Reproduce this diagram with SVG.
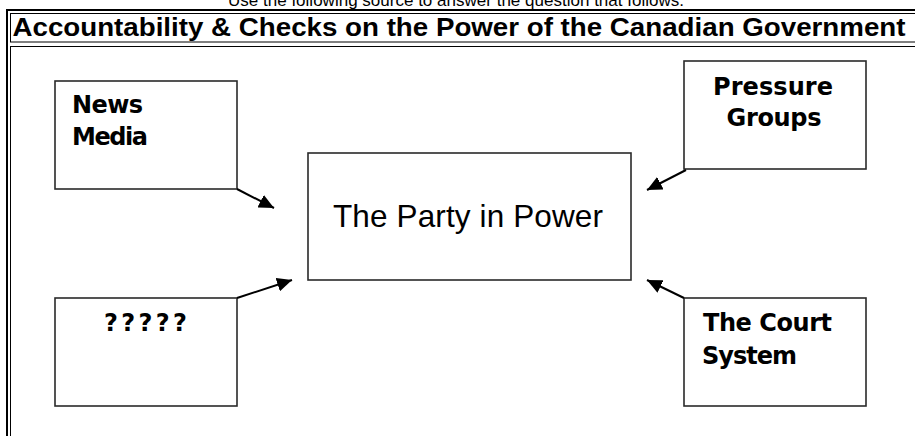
<svg xmlns="http://www.w3.org/2000/svg" width="915" height="436" viewBox="0 0 915 436">
  <style>
    .frame { fill: none; stroke: #000; }
    .box { fill: #fff; stroke: #2a2a2a; stroke-width: 1.6; }
    .lbl { font-family: "DejaVu Sans", Verdana, sans-serif; font-weight: bold; font-size: 24px; fill: #000; }
    .conn { stroke: #000; stroke-width: 2; fill: none; }
  </style>
  <defs>
    <marker id="ah" markerUnits="userSpaceOnUse" markerWidth="16" markerHeight="14" refX="15" refY="7" orient="auto">
      <path d="M0,0 L15,7 L0,14 Z" fill="#000"/>
    </marker>
  </defs>
  <rect width="915" height="436" fill="#fff"/>
  <text x="456" y="6" text-anchor="middle" font-family="'Liberation Sans', Arial, sans-serif" font-size="17" textLength="456">Use the following source to answer the question that follows.</text>
  <g id="table">
    <rect class="frame" x="7" y="10" width="920" height="440" stroke-width="2"/>
    <rect class="frame" x="10.5" y="13.5" width="920" height="28.5" stroke-width="1"/>
    <rect class="frame" x="10.5" y="46.5" width="920" height="400" stroke-width="1"/>
    <text x="459" y="36" text-anchor="middle" font-family="'Liberation Sans', Arial, sans-serif" font-weight="bold" font-size="25" textLength="893" lengthAdjust="spacingAndGlyphs">Accountability &amp; Checks on the Power of the Canadian Government</text>
  </g>
  <g id="party">
    <rect class="box" x="308" y="153" width="323" height="127"/>
    <text x="468" y="227" text-anchor="middle" font-family="'Liberation Sans', Arial, sans-serif" font-size="31.5" textLength="270">The Party in Power</text>
  </g>
  <g id="news">
    <rect class="box" x="55" y="81" width="182" height="108"/>
    <text class="lbl" x="72" y="113" textLength="71">News</text>
    <text class="lbl" x="72" y="145" textLength="76">Media</text>
  </g>
  <g id="pressure">
    <rect class="box" x="684" y="61" width="182" height="108"/>
    <text class="lbl" x="773" y="95" text-anchor="middle" textLength="120">Pressure</text>
    <text class="lbl" x="774" y="126" text-anchor="middle" textLength="95">Groups</text>
  </g>
  <g id="unknown">
    <rect class="box" x="55" y="298" width="182" height="108"/>
    <text class="lbl" x="145.5" y="331" text-anchor="middle" textLength="83">?????</text>
  </g>
  <g id="court">
    <rect class="box" x="684" y="298" width="182" height="108"/>
    <text class="lbl" x="703" y="331" textLength="129">The Court</text>
    <text class="lbl" x="702" y="364" textLength="95">System</text>
  </g>
  <g id="connectors">
    <line class="conn" x1="237" y1="189" x2="274" y2="208" marker-end="url(#ah)"/>
    <line class="conn" x1="237" y1="298" x2="292" y2="280" marker-end="url(#ah)"/>
    <line class="conn" x1="686" y1="170" x2="647" y2="190" marker-end="url(#ah)"/>
    <line class="conn" x1="684" y1="298" x2="647" y2="280" marker-end="url(#ah)"/>
  </g>
</svg>
